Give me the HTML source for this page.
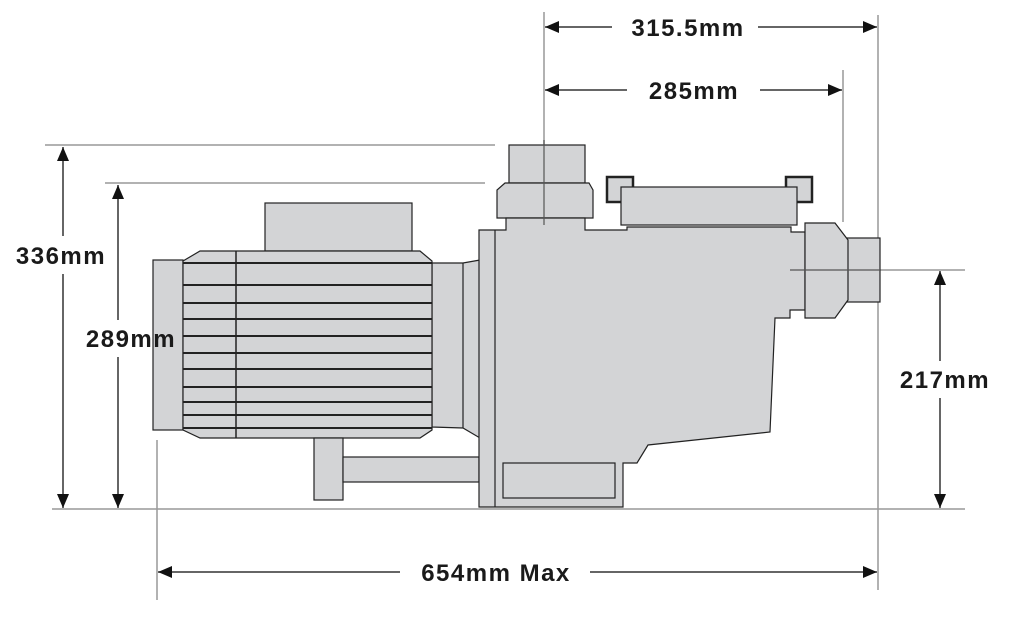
<!DOCTYPE html>
<html><head><style>body{margin:0;background:#fff}svg{display:block}</style></head><body>
<svg width="1010" height="620" viewBox="0 0 1010 620" xmlns="http://www.w3.org/2000/svg" font-family="Liberation Sans, sans-serif">
<defs>
<marker id="a" viewBox="0 0 14 12" refX="14" refY="6" markerWidth="14" markerHeight="12" markerUnits="userSpaceOnUse" orient="auto-start-reverse"><path d="M0,0L14,6L0,12z" fill="#111"/></marker>
</defs>
<g stroke="#999" stroke-width="1.5" fill="none">
<line x1="45" y1="145" x2="495" y2="145"/>
<line x1="105" y1="183" x2="485" y2="183"/>
<line x1="52" y1="509" x2="965" y2="509"/>
<line x1="544" y1="12" x2="544" y2="225"/>
<line x1="878" y1="15" x2="878" y2="590"/>
<line x1="843" y1="70" x2="843" y2="222"/>
<line x1="157" y1="440" x2="157" y2="600"/>
<line x1="790" y1="270" x2="965" y2="270"/>
</g>
<g stroke="#222" stroke-width="1.2" fill="#d3d4d6" stroke-linejoin="miter">
<rect x="265" y="203" width="147" height="48"/>
<rect x="153" y="260" width="30" height="170"/>
<polygon points="432,263 463,263 480,260 480,438 463,428 432,427"/>
<line x1="463" y1="263" x2="463" y2="428"/>
<polygon points="183,261 200,251 420,251 432,261 432,430 420,438 200,438 183,430"/>
<rect x="314" y="438" width="29" height="62"/>
<rect x="343" y="457" width="136" height="25"/>
<rect x="607" y="177" width="26" height="25" stroke-width="2.5"/>
<rect x="786" y="177" width="26" height="25" stroke-width="2.5"/>
<rect x="509" y="145" width="76" height="38"/>
<polygon points="505,183 589,183 593,190 593,218 497,218 497,190"/>
<polygon points="479,230 506,230 506,218 585,218 585,230 627,230 627,227 791,227 791,232 805,232 805,310 790,310 790,318 775,318 770,432 648,445 637,463 623,463 623,507 479,507"/>
<line x1="495" y1="230" x2="495" y2="507"/>
<rect x="621" y="187" width="176" height="38"/>
<rect x="503" y="463" width="112" height="35"/>
<rect x="847" y="238" width="33" height="64"/>
<polygon points="805,223 835,223 848,240 848,300 835,318 805,318"/>
</g>
<g stroke="#222" stroke-width="2">
<line x1="183" y1="263" x2="432" y2="263"/>
<line x1="183" y1="285" x2="432" y2="285"/>
<line x1="183" y1="303" x2="432" y2="303"/>
<line x1="183" y1="319" x2="432" y2="319"/>
<line x1="183" y1="336" x2="432" y2="336"/>
<line x1="183" y1="353" x2="432" y2="353"/>
<line x1="183" y1="369" x2="432" y2="369"/>
<line x1="183" y1="387" x2="432" y2="387"/>
<line x1="183" y1="402" x2="432" y2="402"/>
<line x1="183" y1="415" x2="432" y2="415"/>
<line x1="183" y1="428" x2="432" y2="428"/>
</g>
<line x1="236" y1="251" x2="236" y2="438" stroke="#222" stroke-width="1.5"/>
<g stroke="#555" stroke-width="1.2">
<line x1="544" y1="140" x2="544" y2="225"/>
<line x1="790" y1="270" x2="880" y2="270"/>
</g>
<g stroke="#333" stroke-width="1.5" fill="none">
<line x1="63" y1="147" x2="63" y2="236" marker-start="url(#a)"/>
<line x1="63" y1="274" x2="63" y2="508" marker-end="url(#a)"/>
<line x1="118" y1="185" x2="118" y2="320" marker-start="url(#a)"/>
<line x1="118" y1="357" x2="118" y2="508" marker-end="url(#a)"/>
<line x1="940" y1="271" x2="940" y2="361" marker-start="url(#a)"/>
<line x1="940" y1="398" x2="940" y2="508" marker-end="url(#a)"/>
<line x1="545" y1="27" x2="612" y2="27" marker-start="url(#a)"/>
<line x1="758" y1="27" x2="877" y2="27" marker-end="url(#a)"/>
<line x1="545" y1="90" x2="627" y2="90" marker-start="url(#a)"/>
<line x1="760" y1="90" x2="842" y2="90" marker-end="url(#a)"/>
<line x1="158" y1="572" x2="400" y2="572" marker-start="url(#a)"/>
<line x1="590" y1="572" x2="877" y2="572" marker-end="url(#a)"/>
</g>
<g font-size="24" font-weight="bold" fill="#1a1a1a" text-anchor="middle" letter-spacing="1.5">
<text x="61" y="264">336mm</text>
<text x="131" y="347">289mm</text>
<text x="945" y="388">217mm</text>
<text x="688" y="36">315.5mm</text>
<text x="694" y="99">285mm</text>
<text x="496" y="581">654mm Max</text>
</g>
</svg>
</body></html>
